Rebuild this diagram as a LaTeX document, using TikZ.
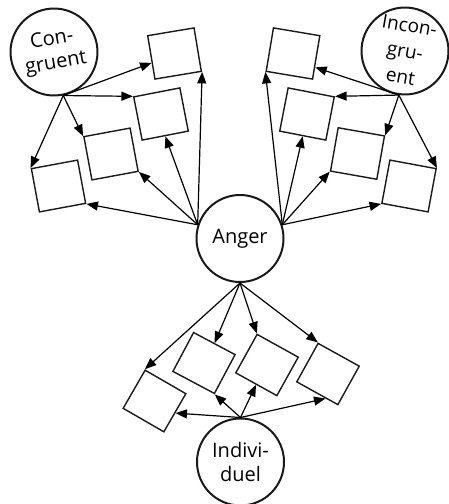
\documentclass[tikz,border=0pt]{standalone}
\usepackage{fontspec}
\setmainfont{Open Sans}
\usetikzlibrary{shapes,positioning,arrows.meta,calc}

\begin{document}
\begin{tikzpicture}[x=1pt,y=-1pt,
latent/.style={circle,minimum size=87pt,inner sep=0pt, % the factors
line width=2pt,draw=black!90,align=center,
font=\fontsize{20}{24}\selectfont},
item/.style={rectangle,minimum width=47pt,minimum height=44pt,
inner sep=0pt,line width=1.4pt,draw=black!90}]

\tikzset{
  every edge/.append style = {line width=1.2pt,-{Triangle[length=11.5pt,width=9pt]}}
}

    \useasboundingbox (0,0) rectangle (449,504);

    \node[latent,rotate=10] at (54,52) (cong) {Con-\\gruent};
    \node[latent,rotate=-10,font=\fontsize{19}{26}\selectfont] at (405,51) (incong) {Incon-\\gru-\\ent};
    \node[latent] at (240,238.5) (anger) {Anger};
    \node[latent] at (240.5,462) (indiv) {Indivi-\\duel};

    \node[item,rotate=9.5] at (174.5,53.5) (s1) {};
    \node[item,rotate=11] at (161,114) (s2) {};
    \node[item,rotate=10.5] at (111,154) (s3) {};
    \node[item,rotate=10.5] at (58.5,186) (s4) {};

    \node[item,rotate=-9.5] at (293,53.5) (t1) {};
    \node[item,rotate=-11] at (307,114) (t2) {};
    \node[item,rotate=-10] at (357.5,153.5) (t3) {};
    \node[item,rotate=-10.5] at (409,186) (t4) {};

    \node[item,rotate=-30] at (154.5,401) (u1) {};
    \node[item,rotate=-28] at (204,363) (u2) {};
    \node[item,rotate=-29] at (267,365) (u3) {};
    \node[item,rotate=-29] at (328,374) (u4) {};

    \draw 
        (cong.-88) edge ($(s1.north west)!.62!(s1.south west)$)
        (cong.-88) edge (s2.north west)
        (cong.-88) edge (s3.north west)
        (cong.-88) edge (s4.north west);
    \draw 
        (incong.-88) edge ($(t1.north east)!.72!(t1.south east)$)
        (incong.-88) edge (t2.north east)
        (incong.-88) edge (t3.north east)
        (incong.-88) edge (t4.north east);
    \draw 
        (anger.162) edge (s1.south east)
        (anger.162) edge (s2.south)
        (anger.162) edge (s3.south east)
        (anger.162) edge (s4.south east)
        (anger.18) edge (t1.south west)
        (anger.18) edge (t2.south)
        (anger.18) edge (t3.south west)
        (anger.18) edge (t4.south west)
        (anger.south) edge (u1.north west)
        (anger.south) edge (u2.north)
        (anger.south) edge (u3.north west)
        (anger.south) edge (u4.north west);
    \draw 
        (indiv.north) edge (u1.east)
        (indiv.north) edge (u2.south east)
        (indiv.north) edge (u3.south)
        (indiv.north) edge ($(u4.south west)!.7!(u4.south east)$);

\end{tikzpicture}
\end{document}
